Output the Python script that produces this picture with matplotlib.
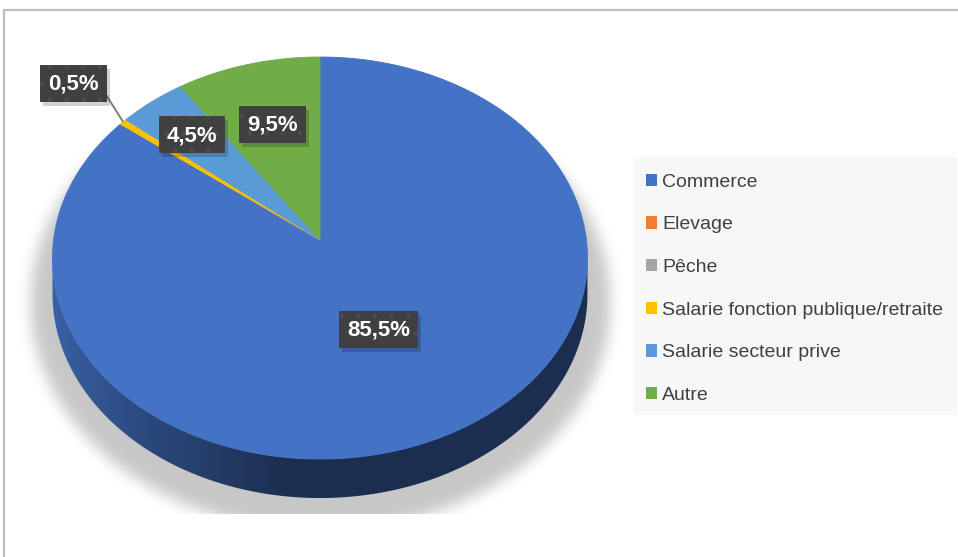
import numpy as np
import matplotlib
matplotlib.use("Agg")
import matplotlib.pyplot as plt
from matplotlib.patches import Polygon, Rectangle, Patch
from matplotlib.colors import to_rgb

# ---- data ---------------------------------------------------------------
categories = ["Commerce", "Elevage", "Pêche",
              "Salarie fonction publique/retraite",
              "Salarie secteur prive", "Autre"]
values = [85.5, 0.0, 0.0, 0.5, 4.5, 9.5]
colors = ["#4472C4", "#ED7D31", "#A5A5A5", "#FFC000", "#5B9BD5", "#70AD47"]
value_labels = [f"{v:.1f}%".replace(".", ",") for v in values]

# ---- layout / style -----------------------------------------------------
W, H = 958, 557
CX, CY = 320.0, 240.0          # projected centre of the disc
A, B = 266.4, 199.4            # horizontal / vertical radii
K = 0.0896                     # perspective strength
DEPTH = 35.5                   # thickness of the disc
START = 90.0                   # first slice starts at 12 o'clock, clockwise
label_r = [0.48, None, None, 1.28, 0.75, 0.64]
label_shift = {3: (2.0, -8.0)}
leader_end = {3: (30.0, 8.0)}
LABEL_FONT = ["Liberation Sans", "DejaVu Sans"]
TEXT_FONT = ["Liberation Sans", "DejaVu Sans"]
LEGEND_BOX = (633, 157, 957, 415)   # left, top, right, bottom in pixels


def proj(u, v):
    s = 1.0 + K * v
    return CX + A * u / s, CY - B * v / s


def rim(t_deg, r=1.0):
    t = np.radians(t_deg)
    return proj(r * np.cos(t), r * np.sin(t))


fig = plt.figure(figsize=(W / 100, H / 100), dpi=100)
ax = fig.add_axes([0, 0, 1, 1])
ax.set_xlim(0, W)
ax.set_ylim(H, 0)
ax.axis("off")

# outer frame
ax.plot([4.5, 4.5, W + 5], [H + 5, 9.5, 9.5], color="#BFBFBF", lw=1.6,
        solid_joinstyle="miter", zorder=0)

# ---- soft floor shadow --------------------------------------------------
gx = np.arange(0, 660)
gy = np.arange(150, 540)
X, Y = np.meshgrid(gx, gy)
mask = (((X - CX) / 290.0) ** 2 + ((Y - 302.0) / 228.0) ** 2 <= 1.0).astype(float)
sig = 7.0
kx = np.arange(-24, 25)
kern = np.exp(-kx ** 2 / (2 * sig ** 2))
kern /= kern.sum()
blur = np.apply_along_axis(lambda r: np.convolve(r, kern, mode="same"), 1, mask)
blur = np.apply_along_axis(lambda c: np.convolve(c, kern, mode="same"), 0, blur)
blur[Y > 513] = 0.0
shadow = np.zeros((len(gy), len(gx), 4))
shadow[..., 3] = 0.22 * blur
ax.imshow(shadow, extent=(gx[0], gx[-1] + 1, gy[-1] + 1, gy[0]),
          interpolation="bilinear", zorder=1)

# ---- slice angles -------------------------------------------------------
total = float(sum(values))
bounds = []
acc = 0.0
for v in values:
    t0 = START - 360.0 * acc / total
    acc += v
    t1 = START - 360.0 * acc / total
    bounds.append((t1, t0))       # t1 < t0 (clockwise)

# ---- side wall (front half only) ---------------------------------------
edge = np.degrees(np.arcsin(K))
front = [(180.0 + edge, 360.0 - edge), (-180.0 + edge, -edge)]


def shade(x):
    f = np.clip((x - 52.0) / (285.0 - 52.0), 0, 1)
    return 0.86 - (0.86 - 0.41) * f ** 0.8


for (t1, t0), col, v in zip(bounds, colors, values):
    if v <= 0:
        continue
    for fa, fb in front:
        a, b = max(t1, fa), min(t0, fb)
        if b <= a:
            continue
        ts = np.linspace(a, b, 200)
        tr = np.radians(ts)
        u, w = np.cos(tr), np.sin(tr)
        xt, yt = proj(u, w)
        yb = yt + DEPTH / (1.0 + K * w)
        pts = np.concatenate([np.column_stack([xt, yt]),
                              np.column_stack([xt[::-1], yb[::-1]])])
        poly = Polygon(pts, closed=True, fc="none", ec="none", zorder=2)
        ax.add_patch(poly)
        xs = np.arange(40, 610)
        rgb = np.array(to_rgb(col))
        grad = shade(xs)[:, None] * rgb[None, :]
        img = np.repeat(grad[None, :, :], 2, axis=0)
        im = ax.imshow(img, extent=(40, 610, 520, 230), aspect="auto",
                       interpolation="bilinear", zorder=2)
        im.set_clip_path(poly)

# ---- top surface -------------------------------------------------------
for (t1, t0), col, v in zip(bounds, colors, values):
    if v <= 0:
        continue
    ts = np.linspace(t0, t1, max(3, int((t0 - t1) * 3)))
    xs, ys = rim(ts)
    pts = np.concatenate([[[CX, CY]], np.column_stack([xs, ys])])
    ax.add_patch(Polygon(pts, closed=True, fc=col, ec=col, lw=0.6,
                         joinstyle="round", zorder=3))

# ---- data labels -------------------------------------------------------
texts = []
for i, ((t1, t0), v) in enumerate(zip(bounds, values)):
    r = label_r[i]
    if v <= 0 or r is None:
        continue
    mid = 0.5 * (t0 + t1)
    lx, ly = rim(mid, r)
    dx, dy = label_shift.get(i, (0.0, 0.0))
    lx, ly = lx + dx, ly + dy
    if r > 1.0:
        rx, ry = rim(mid, 1.0)
        ex, ey = leader_end[i]
        ax.plot([rx, lx + ex], [ry, ly + ey], color="#7F7F7F", lw=1.4,
                zorder=4, solid_capstyle="butt")
    t = ax.text(lx, ly + 1, value_labels[i], color="white", fontsize=16,
                fontweight="bold", family=LABEL_FONT, ha="center",
                va="center", zorder=7)
    texts.append((t, lx, ly))

fig.canvas.draw()
renderer = fig.canvas.get_renderer()
for t, lx, ly in texts:
    bb = t.get_window_extent(renderer)
    bw = bb.width + 16
    bh = 37
    ax.add_patch(Rectangle((lx - bw / 2 + 3, ly - bh / 2 + 4), bw, bh,
                           fc="black", ec="none", alpha=0.18, zorder=5))
    ax.add_patch(Rectangle((lx - bw / 2, ly - bh / 2), bw, bh,
                           fc="#404040", ec="#4C4C4C", lw=0, hatch=".",
                           zorder=6))

# ---- legend ------------------------------------------------------------
lx0, ly0, lx1, ly1 = LEGEND_BOX
ax.add_patch(Rectangle((lx0, ly0), lx1 - lx0, ly1 - ly0, fc="#F7F7F7",
                       ec="none", zorder=0.5))
handles = [Patch(facecolor=c, edgecolor="none") for c in colors]
leg = ax.legend(handles, categories, loc="upper left",
                bbox_to_anchor=(lx0 / W, 1 - (ly0 + 4) / H),
                bbox_transform=fig.transFigure, borderaxespad=0,
                frameon=False,
                prop={"family": TEXT_FONT, "size": 14},
                labelcolor="#404040", handlelength=0.6, handleheight=0.6,
                handletextpad=0.25, labelspacing=1.32, borderpad=0.65)

fig.savefig("out.png", dpi=100)
